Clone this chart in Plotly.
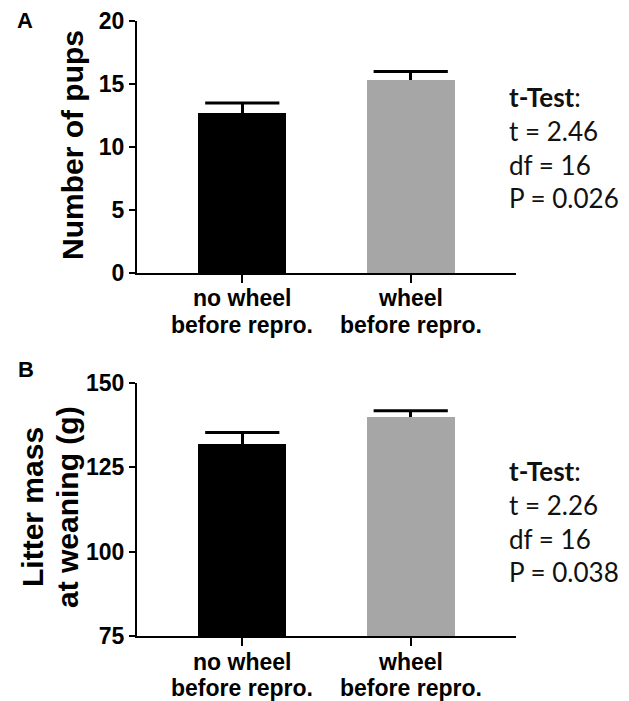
import plotly.graph_objects as go

# ---- data ----
categories = ["no wheel before repro.", "wheel before repro."]
label_line1 = ["no wheel", "wheel"]
label_line2 = ["before repro.", "before repro."]
bar_colors = ["#000000", "#a6a6a6"]

pups_mean = [12.7, 15.3]
pups_sem = [0.8, 0.7]
pups_ticks = [0, 5, 10, 15, 20]

mass_mean = [131.8, 140.0]
mass_sem = [3.5, 1.8]
mass_ticks = [75, 100, 125, 150]

stats_a = ["t = 2.46", "df = 16", "P = 0.026"]
stats_b = ["t = 2.26", "df = 16", "P = 0.038"]

W, H = 629, 701
FONT = "Liberation Sans"

def py(px):
    return 1 - px / H

fig = go.Figure()

for mean, sem, xa, ya in [(pups_mean, pups_sem, "x", "y"), (mass_mean, mass_sem, "x2", "y2")]:
    fig.add_trace(go.Bar(
        x=categories, y=mean, width=0.52,
        marker=dict(color=bar_colors, line=dict(width=0)),
        error_y=dict(type="data", symmetric=False, array=sem, arrayminus=[0, 0],
                     color="black", thickness=3, width=0),
        xaxis=xa, yaxis=ya, showlegend=False, hoverinfo="skip",
    ))
    # error bar caps (top only)
    fig.add_trace(go.Scatter(
        x=categories, y=[m + s for m, s in zip(mean, sem)], mode="markers",
        marker=dict(symbol="line-ew", size=53, line=dict(width=3, color="black"), color="black"),
        xaxis=xa, yaxis=ya, showlegend=False, hoverinfo="skip",
    ))

xdom = [137 / W, 516 / W]
axis_common = dict(showline=True, linecolor="black", linewidth=2, ticks="outside",
                   tickwidth=2, tickcolor="black", showgrid=False, zeroline=False,
                   automargin=False)

fig.update_layout(
    template="none",
    width=W, height=H, margin=dict(l=0, r=0, t=0, b=0, pad=0),
    paper_bgcolor="white", plot_bgcolor="white",
    bargap=0,
    xaxis=dict(domain=xdom, anchor="y", range=[-0.625, 1.625], showticklabels=False,
               ticklen=8, **axis_common),
    yaxis=dict(domain=[py(273), py(21)], anchor="x", range=[0, 20], tickvals=pups_ticks,
               ticklen=6, tickfont=dict(family=FONT, size=23, color="black", weight="bold"),
               **axis_common),
    xaxis2=dict(domain=xdom, anchor="y2", range=[-0.625, 1.625], showticklabels=False,
                ticklen=8, **axis_common),
    yaxis2=dict(domain=[py(636), py(383)], anchor="x2", range=[75, 150], tickvals=mass_ticks,
                ticklen=6, tickfont=dict(family=FONT, size=23, color="black", weight="bold"),
                **axis_common),
)

def A(**kw):
    d = dict(showarrow=False, xanchor="center", yanchor="middle")
    d.update(kw)
    return d

ann = []
# panel letters
ann.append(A(text="A", x=25 / W, y=py(20), xref="paper", yref="paper",
             font=dict(family=FONT, size=22, color="black", weight="bold")))
ann.append(A(text="B", x=26 / W, y=py(369), xref="paper", yref="paper",
             font=dict(family=FONT, size=22, color="black", weight="bold")))

# y titles
ann.append(A(text="Number of pups", x=72 / W, y=py(145), xref="paper", yref="paper",
             textangle=-90, font=dict(family=FONT, size=30, color="black", weight="bold")))
ann.append(A(text="Litter mass", x=32 / W, y=py(507), xref="paper", yref="paper",
             textangle=-90, font=dict(family=FONT, size=30, color="black", weight="bold")))
ann.append(A(text="at weaning (g)", x=67 / W, y=py(507), xref="paper", yref="paper",
             textangle=-90, font=dict(family=FONT, size=30, color="black", weight="bold")))

# category labels
for xa, y1, y2 in [("x", 298, 325), ("x2", 662, 688)]:
    for c, l1, l2 in zip(categories, label_line1, label_line2):
        for txt, yy in [(l1, y1), (l2, y2)]:
            ann.append(A(text=txt, x=c, y=py(yy), xref=xa, yref="paper",
                         font=dict(family=FONT, size=23, color="black", weight="bold")))

# stats text
for stats, yc in [(stats_a, 147), (stats_b, 521)]:
    txt = "<b>t-Test</b>:<br>" + "<br>".join(stats)
    ann.append(A(text=txt, x=507 / W, y=py(yc), xref="paper", yref="paper",
                 xanchor="left", align="left",
                 font=dict(family="Lato", size=26, color="#111111")))

fig.update_layout(annotations=ann)
fig.write_html("out.html", config={"displayModeBar": False},
               post_script="document.body.style.margin='0';document.body.style.overflow='hidden';")
